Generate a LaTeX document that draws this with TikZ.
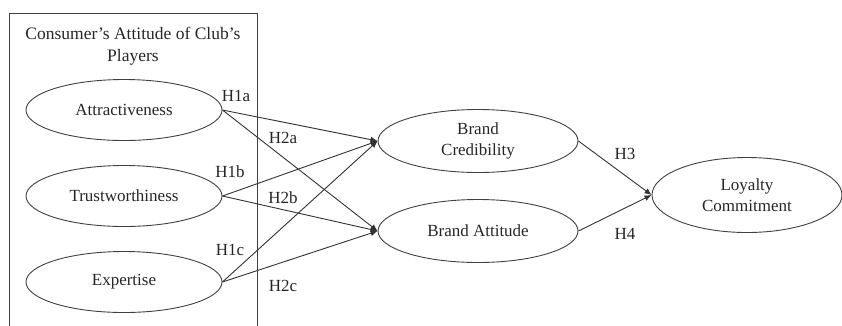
\documentclass[tikz,border=0pt]{standalone}
\usepackage{fontspec}
\setmainfont{Liberation Serif}
\usetikzlibrary{positioning, arrows.meta, shapes.geometric}
\tikzset{
  construct/.style={draw=black!75, line width=0.9pt, ellipse, minimum width=196pt,
    minimum height=61pt, inner sep=0pt, align=center, text=black!85},
  path/.style={draw=black!80, line width=0.9pt, -{Latex[length=7pt,width=6pt]}},
  hyp/.style={text=black!85, inner sep=0pt}
}

\begin{document}
\begin{tikzpicture}[font=\fontsize{17}{21}\selectfont, x=1pt, y=-1pt]
  \useasboundingbox (0,0) rectangle (842,325);
  % grupo das tres dimensoes do jogador
  \draw[black!75, line width=0.9pt] (9,330) -- (9,13) -- (257,13) -- (257,330);
  \node[hyp, align=center, font=\fontsize{17.5}{22}\selectfont] (titulo) at (133,46)
    {Consumer's Attitude of Club's\\Players};
  \foreach \yn/\nm/\txt in {110/attr/Attractiveness, 196/trust/Trustworthiness,
    282/expe/Expertise}
    \node[construct] (\nm) at (124,\yn) {\txt};
  \node[construct, minimum width=200pt, minimum height=63pt] (cred) at (478,141) {Brand\\Credibility};
  \node[construct, minimum width=200pt, minimum height=63pt] (batt) at (478,231) {Brand Attitude};
  \node[construct, minimum width=190pt, minimum height=75pt] (loyal) at (747,195) {Loyalty\\Commitment};
  % caminhos
  \foreach \src in {attr, trust, expe}
  { \draw[path] (\src.east) -- (cred.west);
    \draw[path] (\src.east) -- (batt.west); }
  \draw[path] (cred.east) -- (loyal.west);
  \draw[path] (batt.east) -- (loyal.west);
  % hipoteses
  \foreach \xh/\yh/\nm/\txt in {236/96/hia/H1a, 283/138/hiia/H2a, 230/172/hib/H1b,
    283/198/hiib/H2b, 230/250/hic/H1c, 283/286/hiic/H2c, 625/154/hiii/H3, 625/234/hiv/H4}
    \node[hyp] (\nm) at (\xh,\yh) {\txt};
\end{tikzpicture}
\end{document}
